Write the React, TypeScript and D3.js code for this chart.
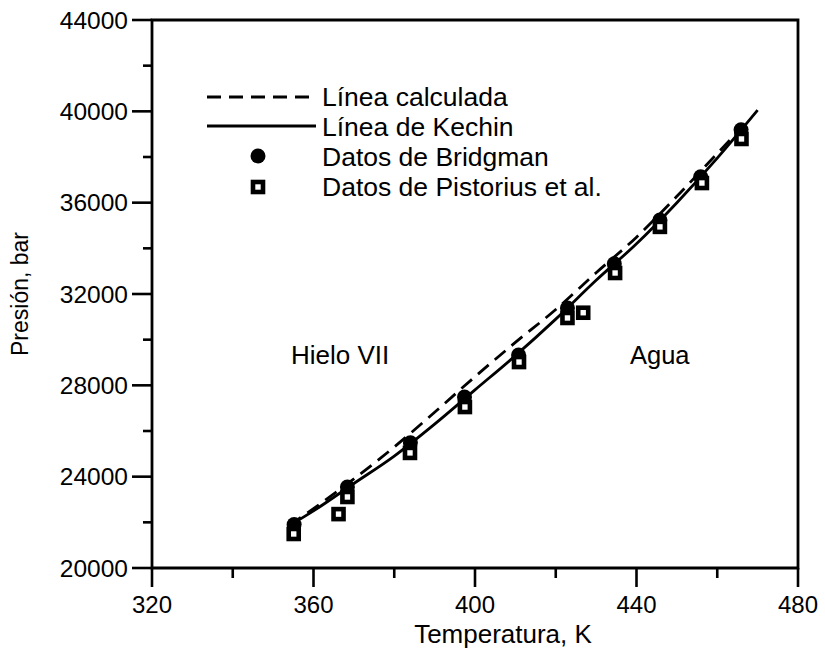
import React from "react";
import * as d3 from "d3";

// Línea de Kechin (solid curve): temperature [K] vs pressure [bar]
const kechinT = [354, 360, 370, 380, 390, 400, 410, 420, 430, 440, 450, 460, 470];
const kechinP = [21850, 22500, 23700, 24900, 26300, 27800, 29300, 30900, 32600, 34200, 36000, 37950, 40050];

// Línea calculada (dashed curve)
const calcT = [354, 360, 370, 380, 390, 400, 410, 420, 430, 440, 450, 460, 468];
const calcP = [21870, 22600, 23900, 25300, 26820, 28380, 29880, 31320, 32930, 34490, 36280, 38150, 39650];

// Datos de Bridgman (filled circles)
const bridgmanT = [355.2, 368.4, 384.0, 397.4, 410.8, 422.9, 434.5, 445.8, 455.9, 465.9];
const bridgmanP = [21900, 23550, 25480, 27490, 29330, 31390, 33320, 35240, 37130, 39190];

// Datos de Pistorius et al. (open squares)
const pistoriusT = [355.1, 366.2, 368.4, 383.9, 397.5, 410.9, 422.9, 426.8, 434.7, 445.8, 456.2, 466.0];
const pistoriusP = [21490, 22360, 23110, 25040, 27050, 29020, 30950, 31180, 32920, 34940, 36860, 38790];

const xMajor = [320, 360, 400, 440, 480];
const xMinor = [340, 380, 420, 460];
const yMajor = [20000, 24000, 28000, 32000, 36000, 40000, 44000];
const yMinor = [22000, 26000, 30000, 34000, 38000, 42000];

const W = 825;
const H = 658;
const FONT = "'Liberation Sans', Arial, Helvetica, sans-serif";

export default function App() {
  const x = d3.scaleLinear().domain([320, 480]).range([152, 798]);
  const y = d3.scaleLinear().domain([20000, 44000]).range([568, 20]);

  const curve = d3
    .line<[number, number]>()
    .x((d) => x(d[0]))
    .y((d) => y(d[1]))
    .curve(d3.curveMonotoneX);

  const kechinPath = curve(kechinT.map((t, i) => [t, kechinP[i]]));
  const calcPath = curve(calcT.map((t, i) => [t, calcP[i]]));

  const x0 = x(320);
  const x1 = x(480);
  const y0 = y(20000);
  const y1 = y(44000);
  const sq = 10;
  const dash = "14,8";

  return (
    <svg
      width={W}
      height={H}
      style={{ position: "absolute", left: 0, top: 0, background: "#fff" }}
      fontFamily={FONT}
    >
      <rect x={0} y={0} width={W} height={H} fill="#fff" />

      {/* frame */}
      <path
        d={`M${x0},${y0} L${x0},${y1} L${x1},${y1} L${x1},${y0} Z`}
        fill="none"
        stroke="#000"
        strokeWidth={2.8}
      />

      {/* x ticks */}
      {xMajor.map((t) => (
        <g key={`xm${t}`}>
          <line x1={x(t)} x2={x(t)} y1={y0} y2={y0 + 19} stroke="#000" strokeWidth={2.6} />
          <text x={x(t)} y={y0 + 45} textAnchor="middle" fontSize={24}>
            {t}
          </text>
        </g>
      ))}
      {xMinor.map((t) => (
        <line key={`xn${t}`} x1={x(t)} x2={x(t)} y1={y0} y2={y0 + 10} stroke="#000" strokeWidth={2.6} />
      ))}

      {/* y ticks */}
      {yMajor.map((v) => (
        <g key={`ym${v}`}>
          <line x1={x0 - 20} x2={x0} y1={y(v)} y2={y(v)} stroke="#000" strokeWidth={2.6} />
          <text x={x0 - 24} y={y(v)} dy="0.36em" textAnchor="end" fontSize={24.5}>
            {v}
          </text>
        </g>
      ))}
      {yMinor.map((v) => (
        <line key={`yn${v}`} x1={x0 - 9} x2={x0} y1={y(v)} y2={y(v)} stroke="#000" strokeWidth={2.6} />
      ))}

      {/* axis titles */}
      <text x={503} y={y0 + 75} textAnchor="middle" fontSize={26}>
        Temperatura, K
      </text>
      <text
        transform={`translate(28, ${(y0 + y1) / 2}) rotate(-90)`}
        textAnchor="middle"
        fontSize={23}
      >
        Presión, bar
      </text>

      {/* curves */}
      <path d={calcPath ?? ""} fill="none" stroke="#000" strokeWidth={2.8} strokeDasharray={dash} />
      <path d={kechinPath ?? ""} fill="none" stroke="#000" strokeWidth={2.8} />

      {/* data points */}
      {bridgmanT.map((t, i) => (
        <circle key={`b${i}`} cx={x(t)} cy={y(bridgmanP[i])} r={7.5} fill="#000" />
      ))}
      {pistoriusT.map((t, i) => (
        <rect
          key={`p${i}`}
          x={x(t) - sq / 2}
          y={y(pistoriusP[i]) - sq / 2}
          width={sq}
          height={sq}
          fill="#fff"
          stroke="#000"
          strokeWidth={4.6}
        />
      ))}

      {/* region labels */}
      <text x={291} y={364} fontSize={26}>
        Hielo VII
      </text>
      <text x={630} y={364} fontSize={25.5}>
        Agua
      </text>

      {/* legend */}
      <g fontSize={26.5}>
        <line x1={207} x2={314} y1={97} y2={97} stroke="#000" strokeWidth={2.8} strokeDasharray={dash} />
        <text x={322} y={106}>Línea calculada</text>
        <line x1={207} x2={316} y1={126} y2={126} stroke="#000" strokeWidth={2.8} />
        <text x={322} y={136}>Línea de Kechin</text>
        <circle cx={258} cy={156} r={7.5} fill="#000" />
        <text x={322} y={166}>Datos de Bridgman</text>
        <rect x={258 - sq / 2} y={187 - sq / 2} width={sq} height={sq} fill="#fff" stroke="#000" strokeWidth={4.6} />
        <text x={322} y={196}>Datos de Pistorius et al.</text>
      </g>
    </svg>
  );
}
